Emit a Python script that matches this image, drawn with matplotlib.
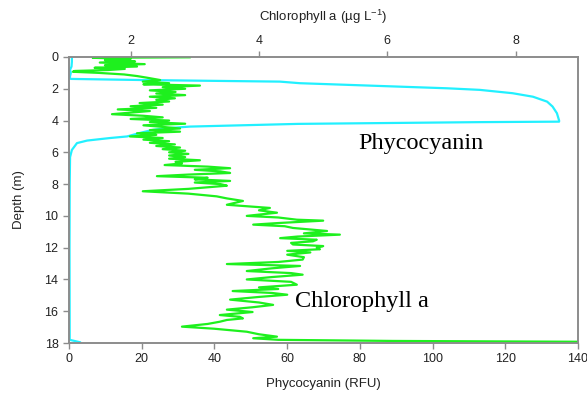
import matplotlib.pyplot as plt
import numpy as np

# phycocyanin profile (RFU) vs depth (m)
pc_depth = [0.0, 0.3, 0.6, 0.8, 1.0, 1.3, 1.38, 1.45, 1.55, 1.65, 1.97, 2.07, 2.28, 2.5,
            2.81, 3.12, 3.54, 4.0, 4.07, 4.1, 4.21, 4.38, 4.48, 4.59, 4.78, 5.0, 5.1,
            5.26, 5.42, 5.85, 6.3, 8.0, 12.0, 17.8, 17.95]
pc_rfu = [0.8, 0.8, 0.7, 0.3, 0.5, 0.2, 0.5, 20, 58, 63.5, 104, 113, 122, 127.6,
          131.5, 133, 134.2, 134.8, 134.8, 113, 63, 33.3, 27, 23, 19.5, 16, 11.3,
          5, 2.2, 0.8, 0.3, 0.2, 0.15, 0.2, 3]

# chlorophyll a profile (ug/L) vs depth (m)
chl_depth = [0.02, 0.05, 0.12, 0.2, 0.28, 0.35, 0.45, 0.52, 0.6, 0.68, 0.75, 0.82, 0.88,
             0.93, 1.0, 1.1, 1.2, 1.3, 1.45, 1.55, 1.65, 1.72, 1.8, 1.9, 2.0, 2.1, 2.2,
             2.3, 2.4, 2.5, 2.6, 2.7, 2.8, 2.9, 3.0, 3.1, 3.2, 3.3, 3.4, 3.5, 3.6, 3.7,
             3.8, 3.9, 4.0, 4.1, 4.2, 4.3, 4.4, 4.5, 4.6, 4.7, 4.8, 4.9, 5.0, 5.1, 5.2,
             5.3, 5.4, 5.5, 5.6, 5.7, 5.8, 5.9, 6.0, 6.1, 6.2, 6.3, 6.4, 6.5, 6.6, 6.7,
             6.8, 6.9, 7.0, 7.1, 7.2, 7.3, 7.4, 7.5, 7.6, 7.7, 7.8, 7.9, 8.0, 8.1, 8.2,
             8.3, 8.45, 8.6, 8.77, 8.9, 9.06, 9.2, 9.3, 9.5, 9.65, 9.8, 10.0, 10.1,
             10.24, 10.3, 10.45, 10.55, 10.65, 10.76, 10.95, 11.1, 11.18, 11.3, 11.4,
             11.5, 11.6, 11.7, 11.8, 11.9, 12.0, 12.1, 12.2, 12.3, 12.44, 12.6, 12.75,
             12.9, 13.03, 13.15, 13.3, 13.47, 13.6, 13.7, 13.85, 14.0, 14.15, 14.33,
             14.5, 14.6, 14.73, 14.85, 14.96, 15.1, 15.27, 15.45, 15.6, 15.75, 15.9,
             16.05, 16.24, 16.35, 16.45, 16.55, 16.66, 16.8, 16.97, 17.1, 17.29, 17.45,
             17.6, 17.7, 17.8, 17.87, 17.92]
chl = [2.92, 1.41, 2.0, 1.6, 2.07, 1.52, 2.22, 1.60, 2.1, 1.44, 1.91, 1.65, 1.13,
       1.10, 1.5, 1.9, 2.1, 2.25, 2.46, 2.19, 2.6, 2.2, 3.08, 2.5, 2.85, 2.3, 2.7,
       2.4, 2.85, 2.3, 2.69, 2.4, 2.6, 2.14, 2.5, 2.0, 2.4, 1.80, 2.3, 2.0, 1.71, 2.2,
       2.5, 2.0, 2.6, 2.3, 2.85, 2.2, 2.5, 2.77, 2.3, 2.77, 2.1, 2.4, 1.99, 2.5, 2.2,
       2.6, 2.3, 2.69, 2.4, 2.77, 2.5, 2.85, 2.6, 2.9, 2.6, 2.85, 2.6, 3.08, 2.7, 2.8,
       2.53, 3.2, 3.55, 3.0, 3.4, 3.55, 2.9, 2.41, 3.2, 3.0, 3.55, 3.0, 3.4, 3.50, 3.2,
       2.9, 2.19, 2.9, 3.34, 3.5, 3.75, 3.6, 3.50, 4.17, 4.0, 4.28, 3.81, 4.3,
       4.59, 5.00, 4.3, 3.91, 4.4, 4.53, 5.06, 4.7, 5.26, 4.6, 4.33,
       4.9, 4.84, 4.5, 4.53, 5.0, 4.90, 4.95, 4.44, 4.8, 4.44, 4.7, 4.68,
       4.3, 3.50, 4.64, 4.2, 3.81, 4.5, 4.68, 4.2, 3.81, 4.5, 4.59,
       4.0, 4.3, 3.59, 4.2, 4.44, 4.0, 3.55, 4.0, 4.22, 3.9, 3.50,
       3.9, 3.39, 3.7, 3.75, 3.5, 3.39, 3.2, 2.80, 3.3, 3.81, 4.0,
       4.28, 3.91, 4.3, 6.09, 8.95]

plt.rcParams['font.family'] = ['Liberation Sans', 'DejaVu Sans']
plt.rcParams['mathtext.default'] = 'regular'
gray = '#8c8c8c'

fig = plt.figure(figsize=(5.87, 3.93), dpi=100)
ax = fig.add_axes([0.1175, 0.1272, 0.8672, 0.7278])
ax.plot(pc_rfu, pc_depth, color='#22f0ff', lw=1.6)
ax.set_xlim(0, 140)
ax.set_ylim(18, 0)
ax.set_xticks(np.arange(0, 141, 20))
ax.set_yticks(np.arange(0, 19, 2))
ax.set_xlabel('Phycocyanin (RFU)', fontsize=9.5, color='#222222', labelpad=9)
ax.set_ylabel('Depth (m)', fontsize=9.5, color='#222222', labelpad=14)

ax2 = ax.twiny()
ax2.plot(chl, chl_depth, color='#1ef01e', lw=1.6)
ax2.set_xlim(1.04, 8.97)
ax2.set_xticks([2, 4, 6, 8])
ax2.set_xlabel('Chlorophyll a (\u00b5g L$^{-1}$)', fontsize=9.5, color='#222222', labelpad=10)

for a in (ax, ax2):
    for s in a.spines.values():
        s.set_color(gray)
        s.set_linewidth(1.2)
    a.tick_params(colors=gray, labelcolor='#222222', labelsize=9, length=4, width=1)

fig.text(358 / 587, 1 - 144 / 393, 'Phycocyanin', fontsize=17.5,
         family='Liberation Serif', va='center')
fig.text(295 / 587, 1 - 302 / 393, 'Chlorophyll a', fontsize=17.5,
         family='Liberation Serif', va='center')

fig.savefig('out.png', dpi=100)
